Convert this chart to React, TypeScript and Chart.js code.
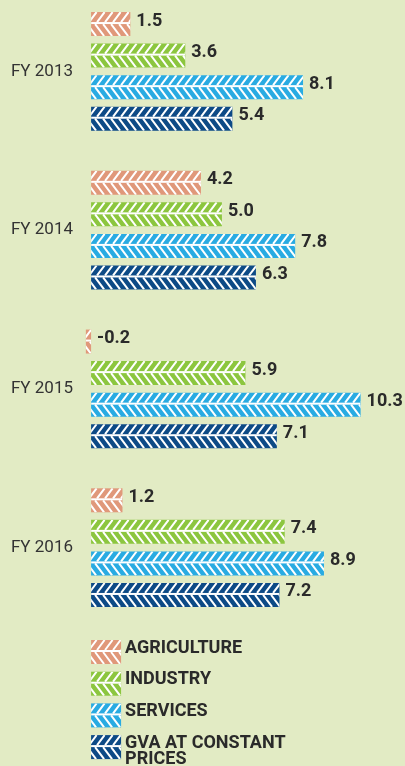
import React, { useEffect, useRef } from "react";
import { Chart, registerables } from "chart.js";

Chart.register(...registerables);

const categories = ["FY 2013", "FY 2014", "FY 2015", "FY 2016"];
const seriesLabels = ["AGRICULTURE", "INDUSTRY", "SERVICES", "GVA AT CONSTANT PRICES"];
const agriculture = [1.5, 4.2, -0.2, 1.2];
const industry = [3.6, 5.0, 5.9, 7.4];
const services = [8.1, 7.8, 10.3, 8.9];
const gva = [5.4, 6.3, 7.1, 7.2];
const seriesColors = ["#E0987A", "#8CC63F", "#29ABE2", "#0D4A86"];

const BG = "#E2EBC4";
const TEXT = "#2A2A2A";

function drawStripes(ctx: CanvasRenderingContext2D, left: number, top: number, w: number, h: number) {
  if (w <= 0 || h <= 0) return;
  const topH = Math.round(h * 0.42);
  const sepH = 2;
  const botTop = top + topH + sepH;
  const botH = top + h - botTop;
  const step = 8;
  ctx.save();
  ctx.beginPath();
  ctx.rect(left, top, w, h);
  ctx.clip();
  ctx.strokeStyle = "#FFFFFF";
  ctx.lineWidth = 2;
  ctx.beginPath();
  for (let x0 = left - topH - step; x0 < left + w + step; x0 += step) {
    ctx.moveTo(x0, top + topH);
    ctx.lineTo(x0 + topH * 0.75, top);
  }
  ctx.stroke();
  ctx.fillStyle = "#FFFFFF";
  ctx.fillRect(left, top + topH, w, sepH);
  ctx.beginPath();
  for (let x0 = left - botH - step; x0 < left + w + step; x0 += step) {
    ctx.moveTo(x0, botTop);
    ctx.lineTo(x0 + botH * 0.75, botTop + botH);
  }
  ctx.stroke();
  ctx.restore();
}

function wrapText(ctx: CanvasRenderingContext2D, text: string, maxW: number): string[] {
  const words = text.split(" ");
  const lines: string[] = [];
  let cur = "";
  for (const w of words) {
    const t = cur ? cur + " " + w : w;
    if (ctx.measureText(t).width > maxW && cur) {
      lines.push(cur);
      cur = w;
    } else cur = t;
  }
  if (cur) lines.push(cur);
  return lines;
}

const decorPlugin = {
  id: "decor",
  afterDatasetsDraw(chart: any) {
    const ctx: CanvasRenderingContext2D = chart.ctx;
    chart.data.datasets.forEach((ds: any, di: number) => {
      const meta = chart.getDatasetMeta(di);
      meta.data.forEach((el: any, i: number) => {
        const p = el.getProps(["x", "y", "base", "height"], true);
        const left = Math.min(p.x, p.base);
        const right = Math.max(p.x, p.base);
        const top = p.y - p.height / 2;
        drawStripes(ctx, left, top, right - left, p.height);
        const v = ds.data[i];
        ctx.save();
        ctx.fillStyle = TEXT;
        ctx.font = "bold 18px Roboto";
        ctx.textBaseline = "middle";
        ctx.textAlign = "left";
        ctx.fillText(v.toFixed(1), right + 6, p.y - 3);
        ctx.restore();
      });
    });
  },
  afterDraw(chart: any) {
    const ctx: CanvasRenderingContext2D = chart.ctx;
    const x0 = chart.scales.x.getPixelForValue(0);
    const startY = chart.chartArea.bottom + 13;
    ctx.save();
    ctx.font = "bold 18px Roboto";
    ctx.textBaseline = "top";
    chart.data.datasets.forEach((ds: any, i: number) => {
      const top = startY + i * 31.7;
      ctx.fillStyle = ds.backgroundColor;
      ctx.fillRect(x0, top, 30, 24);
      drawStripes(ctx, x0, top, 30, 24);
      ctx.fillStyle = TEXT;
      const lines = wrapText(ctx, ds.label, 170);
      lines.forEach((ln, li) => ctx.fillText(ln, x0 + 34, top - 1 + li * 16));
    });
    ctx.restore();
  },
};

export default function App() {
  const ref = useRef<HTMLCanvasElement | null>(null);
  useEffect(() => {
    if (!ref.current) return;
    const values = [agriculture, industry, services, gva];
    const chart = new Chart(ref.current, {
      type: "bar",
      data: {
        labels: categories,
        datasets: seriesLabels.map((label, i) => ({
          label,
          data: values[i],
          backgroundColor: seriesColors[i],
          borderWidth: 0,
          categoryPercentage: 0.795,
          barPercentage: 0.76,
        })),
      },
      options: {
        indexAxis: "y",
        responsive: false,
        animation: false,
        layout: { padding: { top: 0, left: 0, right: 13, bottom: 139 } },
        plugins: { legend: { display: false }, tooltip: { enabled: false } },
        scales: {
          x: { display: false, min: -0.5, max: 11.5 },
          y: {
            grid: { display: false, drawTicks: false },
            border: { display: false },
            ticks: { color: "#333333", font: { family: "Roboto", size: 17 }, padding: 5 },
            afterFit: (axis: any) => {
              axis.width = 78;
              axis.paddingTop = 0;
              axis.paddingBottom = 0;
            },
          },
        },
      },
      plugins: [decorPlugin],
    });
    return () => chart.destroy();
  }, []);
  return (
    <div style={{ position: "absolute", left: 0, top: 0, width: 405, height: 766, background: BG, overflow: "hidden" }}>
      <canvas ref={ref} width={405} height={774} style={{ display: "block", position: "relative", top: -8 }} />
    </div>
  );
}
